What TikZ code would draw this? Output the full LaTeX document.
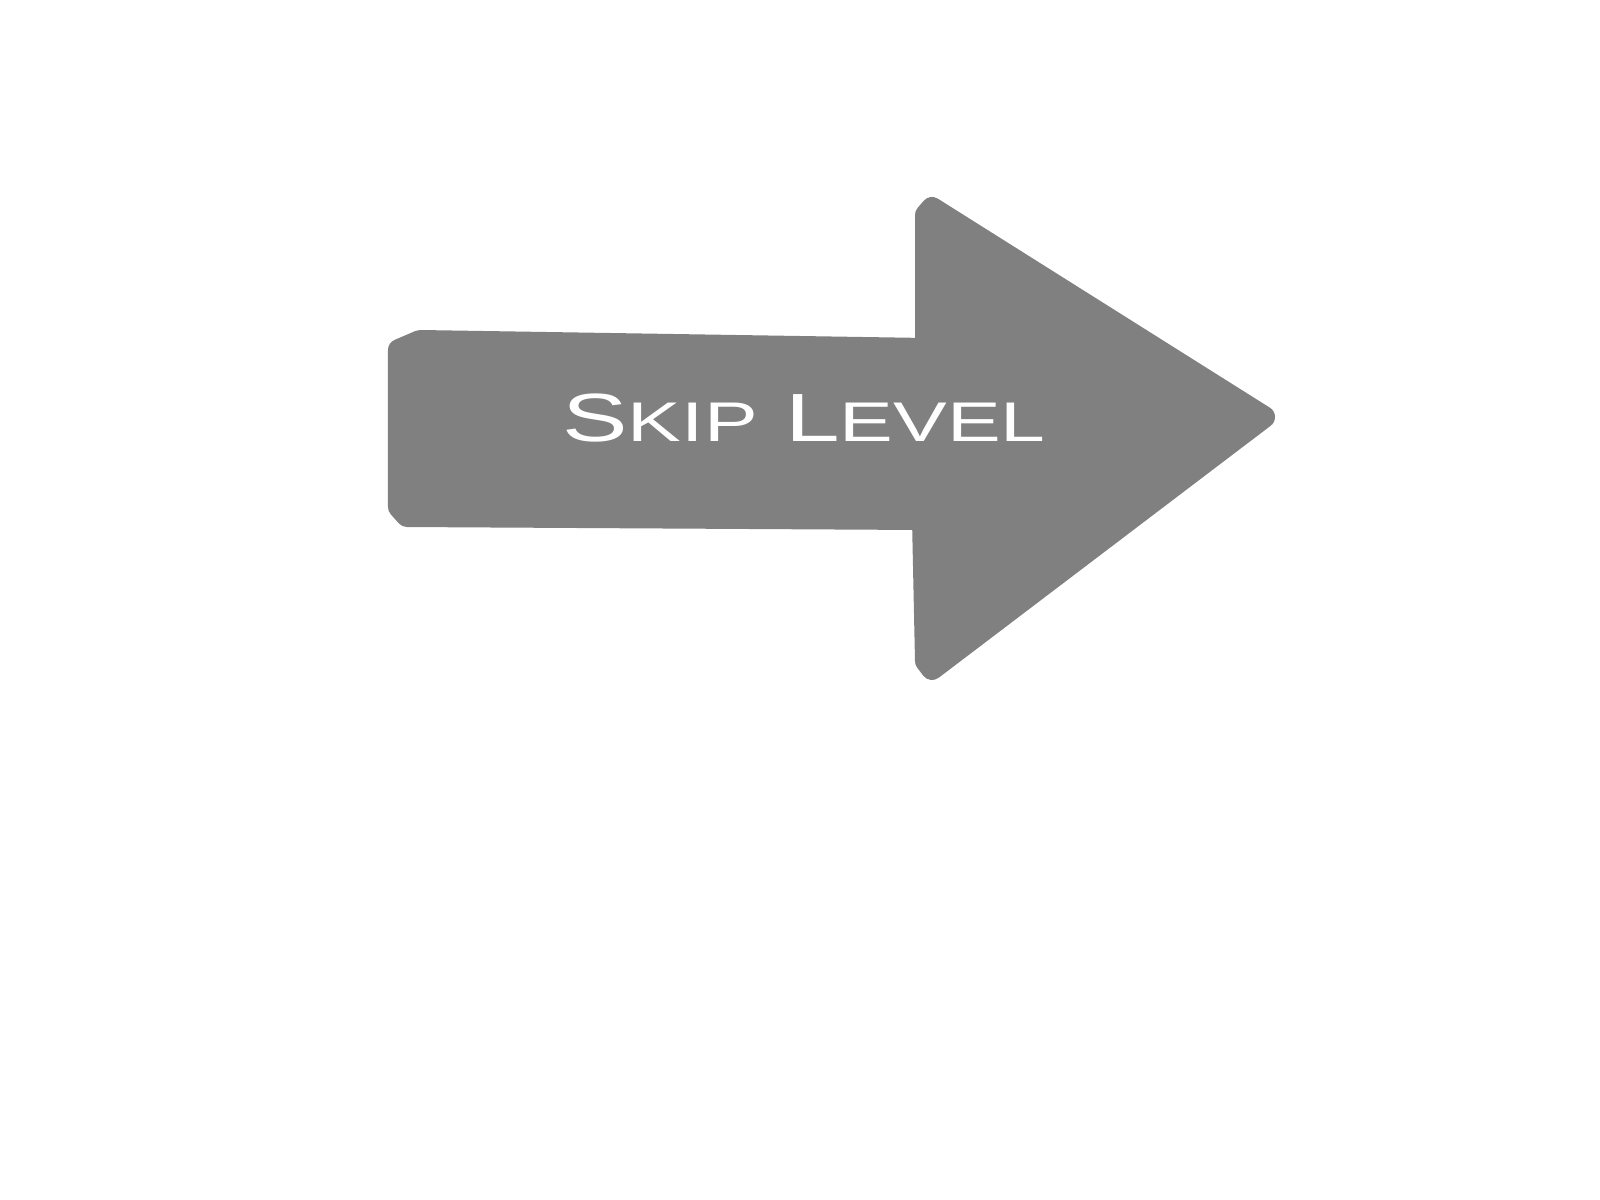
\documentclass[tikz,border=0pt]{standalone}
\usepackage{fontspec}
\newfontfamily\capfont[FakeStretch=1.44]{Liberation Sans}
\definecolor{arrowgray}{RGB}{128,128,128}
\tikzstyle{arrow body}=[fill=arrowgray,draw=arrowgray,line width=0.22cm,line join=round]
\tikzstyle{label}=[text=white,inner sep=0pt,anchor=base,font=\capfont\fontsize{19.4}{20}\selectfont]
\newcommand{\smc}[1]{{\fontsize{15.9}{17}\selectfont #1}}

\begin{document}
\begin{tikzpicture}[x=0.01cm,y=-0.01cm]
				\useasboundingbox (0,0) rectangle (1600,1200);
				% First we place the corners of the arrow
				\foreach \pos/\name in {{(399,350)/a}, {(420,341)/b}, {(926,349)/c}, {(926,215)/d},
										{(932,208)/e}, {(1264,417)/f}, {(932,669)/g}, {(926,661)/h},
										{(923,519)/i}, {(407,516)/j}, {(399,507)/k}}
				\node[coordinate] (\name) at \pos {};
	
				% Then fill the arrow through them
				\path[arrow body] (a) -- (b) -- (c) -- (d) -- (e) -- (f) -- (g) -- (h) -- (i) -- (j) -- (k) -- cycle;
	
				\node[label] (skip) at (804,441) {S\smc{KIP} L\smc{EVEL}};
			\end{tikzpicture}
\end{document}
